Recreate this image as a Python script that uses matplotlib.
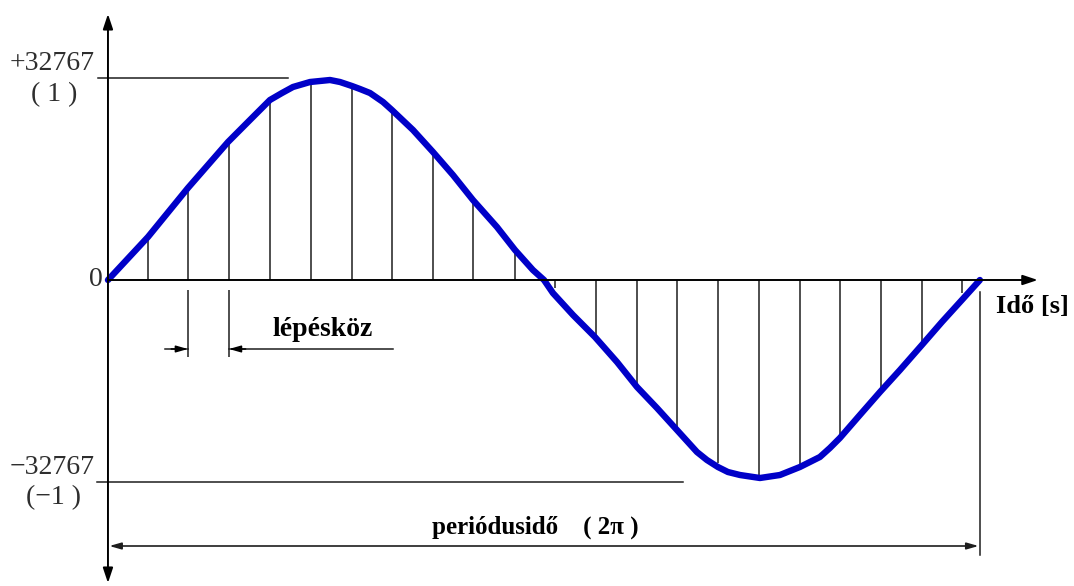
import matplotlib
matplotlib.use("Agg")
import matplotlib.pyplot as plt

plt.rcParams["font.family"] = ["Liberation Serif", "DejaVu Serif"]

# Curve: time in radians, value in units of 32767
curve_t = [0.0, 0.288, 0.576, 0.865, 1.023, 1.167, 1.254, 1.333, 1.456, 1.600,
           1.672, 1.758, 1.816, 1.888, 1.982, 2.046, 2.198, 2.342, 2.486, 2.630,
           2.803, 2.933, 3.062, 3.142, 3.206, 3.351, 3.509, 3.668, 3.812, 3.956,
           4.100, 4.244, 4.316, 4.395, 4.467, 4.554, 4.698, 4.842, 4.986, 5.058,
           5.130, 5.202, 5.274, 5.418, 5.563, 5.707, 5.865, 6.009, 6.153, 6.283]
curve_v = [0.0, 0.215, 0.46, 0.69, 0.80, 0.90, 0.935, 0.965, 0.99, 1.0,
           0.99, 0.97, 0.955, 0.935, 0.89, 0.85, 0.75, 0.64, 0.525, 0.40,
           0.265, 0.15, 0.05, 0.0, -0.065, -0.175, -0.285, -0.41, -0.535, -0.64,
           -0.75, -0.86, -0.90, -0.935, -0.96, -0.975, -0.99, -0.975, -0.935, -0.91,
           -0.885, -0.84, -0.79, -0.675, -0.56, -0.45, -0.325, -0.21, -0.10, 0.0]

# Sampling instants (stems)
stem_t = [0.288, 0.576, 0.872, 1.167, 1.463, 1.758, 2.046, 2.342, 2.630, 2.933,
          3.221, 3.516, 3.812, 4.100, 4.395, 4.691, 4.986, 5.274, 5.570, 5.865, 6.153]
stem_v = [0.21, 0.44, 0.685, 0.89, 0.975, 0.965, 0.84, 0.625, 0.40, 0.15,
          -0.04, -0.285, -0.525, -0.74, -0.915, -0.99, -0.935, -0.775, -0.56, -0.315, -0.065]

period = 6.283
level_labels = ["+32767", "0", "\u221232767"]
level_units = ["( 1 )", "(\u22121 )"]

INK = "#1e1e1e"
BLUE = "#0000c8"
LABEL = "#2e2e2e"

fig = plt.figure(figsize=(10.74, 5.86), dpi=100)
ax = fig.add_axes([0, 0, 1, 1])
ax.set_xlim(-0.778, 6.961)
ax.set_ylim(-1.53, 1.40)
ax.axis("off")

# stems
ax.vlines(stem_t, 0, stem_v, color=INK, lw=1.1)

# axes with arrows
ax.annotate("", xy=(0, 1.33), xytext=(0, -1.515),
            arrowprops=dict(arrowstyle="<|-|>,head_length=0.9,head_width=0.3",
                            color="black", lw=1.4, shrinkA=0, shrinkB=0))
ax.annotate("", xy=(6.70, 0), xytext=(0, 0),
            arrowprops=dict(arrowstyle="-|>,head_length=0.9,head_width=0.3",
                            color="black", lw=1.4, shrinkA=0, shrinkB=0))

# amplitude level lines
ax.plot([-0.072, 1.30], [1.01, 1.01], color=INK, lw=1.1)
ax.plot([-0.079, 4.143], [-1.01, -1.01], color=INK, lw=1.1)

# period dimension
ax.plot([period, period], [-0.06, -1.375], color=INK, lw=1.1)
ax.annotate("", xy=(0.01, -1.33), xytext=(period - 0.01, -1.33),
            arrowprops=dict(arrowstyle="<|-|>,head_length=0.7,head_width=0.2",
                            color=INK, lw=1.2, shrinkA=0, shrinkB=0))
ax.text(3.077, -1.235, "periódusidő    ( 2\u03c0 )", ha="center", va="center",
        fontsize=18, fontweight="bold", color="black")

# step dimension
s0, s1 = stem_t[1], stem_t[2]
ax.vlines([s0, s1], -0.05, -0.385, color=INK, lw=1.1)
ax.plot([0.411, s0], [-0.345, -0.345], color=INK, lw=1.1)
ax.plot([s1, 2.054], [-0.345, -0.345], color=INK, lw=1.1)
ax.annotate("", xy=(s0, -0.345), xytext=(s0 - 0.12, -0.345),
            arrowprops=dict(arrowstyle="-|>,head_length=0.7,head_width=0.2",
                            color="black", lw=1.1, shrinkA=0, shrinkB=0))
ax.annotate("", xy=(s1, -0.345), xytext=(s1 + 0.12, -0.345),
            arrowprops=dict(arrowstyle="-|>,head_length=0.7,head_width=0.2",
                            color="black", lw=1.1, shrinkA=0, shrinkB=0))
ax.text(1.549, -0.25, "lépésköz", ha="center", va="center",
        fontsize=20, fontweight="bold", color="black")

# sine curve
ax.plot(curve_t, curve_v, color=BLUE, lw=4.6, solid_capstyle="round",
        solid_joinstyle="round")

# y labels
ax.text(-0.405, 1.085, level_labels[0], ha="center", va="center", fontsize=20, color=LABEL)
ax.text(-0.385, 0.925, level_units[0], ha="center", va="center", fontsize=20, color=LABEL)
ax.text(-0.04, 0.0, level_labels[1], ha="right", va="center", fontsize=20, color=LABEL)
ax.text(-0.405, -0.935, level_labels[2], ha="center", va="center", fontsize=20, color=LABEL)
ax.text(-0.39, -1.09, level_units[1], ha="center", va="center", fontsize=20, color=LABEL)

ax.text(6.40, -0.135, "Idő [s]", ha="left", va="center", fontsize=19,
        fontweight="bold", color="black")

fig.savefig("out.png", dpi=100, facecolor="white")
plt.close(fig)
